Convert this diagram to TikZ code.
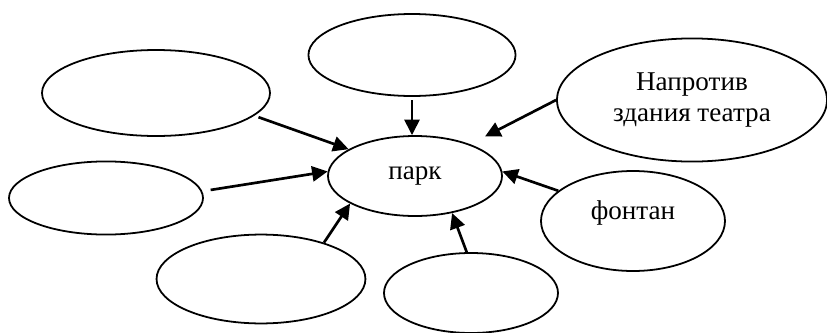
\documentclass[tikz,border=0pt]{standalone}
\usepackage{fontspec}
\setmainfont{Liberation Serif}
\usetikzlibrary{shapes.geometric,arrows.meta}
\tikzset{
  bubble/.style={draw,ellipse,line width=0.8pt,inner sep=0pt,align=center},
  arr/.style={line width=1.2pt,-{Triangle[length=7pt,width=6.8pt]}}
}
\begin{document}
\begin{tikzpicture}[x=0.45pt,y=-0.45pt,font=\fontsize{12.2}{14.2}\selectfont]
\useasboundingbox (0,0) rectangle (827,333);
\node[bubble,minimum width=78.3pt,minimum height=36pt] (park) at (415,176) {парк};
\node[bubble,minimum width=93.2pt,minimum height=36.9pt] (top) at (412,55) {};
\node[bubble,minimum width=102.6pt,minimum height=38.7pt] (tl) at (156,93) {};
\node[bubble,minimum width=121.5pt,minimum height=55.4pt] (theatre) at (692,100) {Напротив\\здания театра};
\node[bubble,minimum width=87.3pt,minimum height=32.9pt] (lf) at (106,198) {};
\node[bubble,minimum width=94pt,minimum height=40pt] (bl) at (261,279) {};
\node[bubble,minimum width=78.3pt,minimum height=36pt] (bt) at (471,293) {};
\node[bubble,minimum width=82.8pt,minimum height=45pt,label={[yshift=3.8pt]center:фонтан}] (fountain) at (633,221) {};
\draw[arr,shorten <=2pt] (tl.-13) -- (park.158);
\draw[arr,shorten <=1.5pt] (top.south) -- (park.north -| top.south);
\draw[arr,shorten >=7.5pt] (theatre.west) -- (park.30);
\draw[arr,shorten <=3.8pt] (lf.4) -- (park.177);
\draw[arr] (bl.30) -- (park.203);
\draw[arr] (bt.96) -- (park.-45);
\draw[arr] (fountain.158) -- (park.3);
\end{tikzpicture}
\end{document}
